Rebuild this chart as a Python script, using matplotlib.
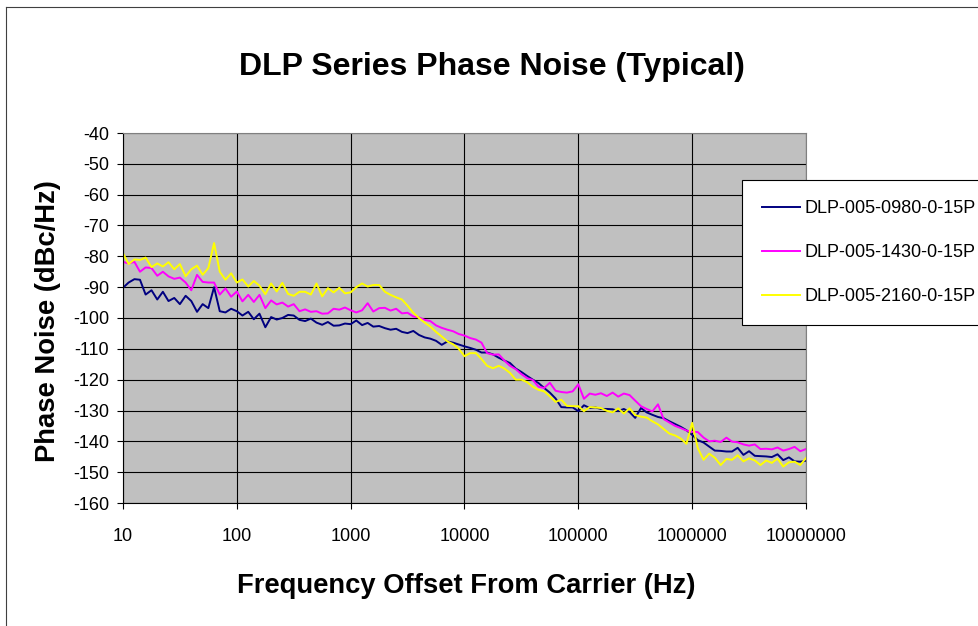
# DLP series phase noise chart (Excel style)
import matplotlib
matplotlib.use("Agg")
import matplotlib.pyplot as plt
from matplotlib.lines import Line2D

plt.rcParams['font.family'] = ['Liberation Sans', 'DejaVu Sans']
plt.rcParams['axes.unicode_minus'] = False

# offset frequencies (Hz), 20 points per decade
freq_hz = [
    10, 11.2, 12.6, 14.1, 15.8, 17.8, 20, 22.4, 25.1, 28.2,
    31.6, 35.5, 39.8, 44.7, 50.1, 56.2, 63.1, 70.8, 79.4, 89.1,
    100, 112, 126, 141, 158, 178, 200, 224, 251, 282,
    316, 355, 398, 447, 501, 562, 631, 708, 794, 891,
    1000, 1120, 1260, 1410, 1580, 1780, 2000, 2240, 2510, 2820,
    3160, 3550, 3980, 4470, 5010, 5620, 6310, 7080, 7940, 8910,
    1.0e4, 1.12e4, 1.26e4, 1.41e4, 1.58e4, 1.78e4, 2.0e4, 2.24e4, 2.51e4, 2.82e4,
    3.16e4, 3.55e4, 3.98e4, 4.47e4, 5.01e4, 5.62e4, 6.31e4, 7.08e4, 7.94e4, 8.91e4,
    1.0e5, 1.12e5, 1.26e5, 1.41e5, 1.58e5, 1.78e5, 2.0e5, 2.24e5, 2.51e5, 2.82e5,
    3.16e5, 3.55e5, 3.98e5, 4.47e5, 5.01e5, 5.62e5, 6.31e5, 7.08e5, 7.94e5, 8.91e5,
    1.0e6, 1.12e6, 1.26e6, 1.41e6, 1.58e6, 1.78e6, 2.0e6, 2.24e6, 2.51e6, 2.82e6,
    3.16e6, 3.55e6, 3.98e6, 4.47e6, 5.01e6, 5.62e6, 6.31e6, 7.08e6, 7.94e6, 8.91e6,
    1.0e7,
]

# phase noise (dBc/Hz)
dlp_0980 = [
    -90.2, -88.5, -87.4, -87.6, -92.4, -91.0, -94.0, -91.5, -94.5, -93.5,
    -95.5, -92.8, -94.5, -98.0, -95.5, -96.8, -90.0, -97.8, -98.2, -97.0,
    -97.8, -99.2, -98.0, -100.4, -98.6, -103.0, -99.7, -100.5, -100.0, -99.0,
    -99.2, -100.6, -101.0, -100.2, -101.5, -102.2, -101.3, -102.5, -102.4, -101.8,
    -102.0, -100.8, -102.3, -101.6, -102.8, -102.6, -103.3, -103.8, -103.5, -104.5,
    -104.9, -104.2, -105.5, -106.3, -106.7, -107.4, -108.7, -107.6, -108.0, -108.6,
    -109.2, -109.7, -110.3, -111.2, -111.2, -111.8, -112.9, -113.8, -114.6, -116.4,
    -117.5, -118.8, -120.0, -121.1, -122.7, -124.2, -126.1, -128.9, -129.0, -129.0,
    -130.2, -128.3, -129.2, -129.0, -129.5, -129.5, -129.6, -130.2, -129.5, -130.5,
    -132.4, -129.2, -130.6, -131.4, -132.1, -132.5, -133.5, -134.4, -135.3, -136.4,
    -137.9, -139.6, -140.4, -141.7, -143.0, -143.1, -143.3, -143.3, -142.1, -144.4,
    -143.2, -144.7, -144.8, -144.9, -145.1, -144.2, -146.1, -145.2, -146.5, -146.6,
    -146.3,
]

dlp_1430 = [
    -81.8, -82.3, -81.8, -85.0, -83.6, -83.8, -86.3, -85.0, -86.5, -87.3,
    -86.9, -88.5, -91.0, -86.0, -88.3, -88.5, -88.5, -92.4, -90.4, -93.1,
    -91.4, -94.6, -92.5, -94.8, -92.5, -96.8, -94.3, -95.6, -95.0, -96.3,
    -95.5, -97.8, -97.2, -98.0, -97.8, -98.6, -98.5, -97.0, -97.3, -96.6,
    -97.5, -98.2, -97.5, -95.2, -97.9, -96.8, -96.7, -97.6, -97.0, -98.5,
    -98.3, -99.5, -99.8, -100.6, -101.0, -102.4, -103.2, -103.8, -104.3, -105.2,
    -105.7, -106.5, -107.0, -108.0, -111.4, -111.9, -111.8, -113.8, -115.5, -116.6,
    -118.2, -119.5, -120.1, -122.3, -122.7, -121.0, -123.6, -124.0, -124.2, -123.8,
    -121.5, -126.2, -124.5, -124.9, -124.4, -125.3, -124.2, -125.5, -124.5, -125.0,
    -126.8, -128.6, -129.5, -130.3, -128.0, -132.8, -133.9, -135.0, -135.7, -136.5,
    -136.9, -137.0, -138.8, -140.0, -139.8, -140.2, -138.8, -140.1, -140.3, -141.0,
    -141.4, -141.0, -142.5, -142.4, -142.6, -142.0, -143.0, -142.5, -141.8, -143.2,
    -142.5,
]

dlp_2160 = [
    -79.0, -82.5, -81.0, -81.2, -80.4, -83.5, -82.3, -83.3, -81.9, -84.2,
    -82.5, -86.5, -84.2, -83.0, -86.0, -83.8, -75.7, -85.0, -87.6, -85.5,
    -88.5, -87.5, -89.8, -88.0, -89.5, -92.3, -88.8, -91.4, -88.6, -92.2,
    -92.8, -91.5, -91.5, -92.4, -88.8, -93.0, -90.3, -91.7, -90.2, -92.0,
    -91.7, -90.0, -88.8, -89.8, -89.3, -89.3, -91.5, -92.5, -93.3, -94.0,
    -96.0, -98.3, -100.0, -101.5, -102.8, -104.5, -106.0, -107.6, -108.5, -110.0,
    -112.4, -111.4, -111.4, -113.3, -115.5, -116.3, -115.5, -116.4, -117.8, -120.0,
    -120.0, -120.8, -122.3, -123.3, -123.8, -125.4, -127.2, -126.5, -128.5, -128.6,
    -128.6, -130.2, -128.9, -129.0, -129.2, -130.1, -130.6, -129.3, -131.0, -129.3,
    -131.5, -132.0, -132.3, -133.5, -134.5, -136.0, -137.5, -138.1, -139.1, -140.8,
    -134.0, -142.2, -146.0, -144.0, -145.3, -147.7, -145.7, -146.0, -144.5, -146.5,
    -145.5, -146.2, -147.7, -146.2, -147.0, -145.6, -148.2, -146.8, -146.6, -147.7,
    -145.4,
]

series_labels = ["DLP-005-0980-0-15P", "DLP-005-1430-0-15P", "DLP-005-2160-0-15P"]
series_colors = ["#000080", "#FF00FF", "#FFFF00"]

x_ticks = [10, 100, 1000, 10000, 100000, 1000000, 10000000]
x_tick_labels = ["10", "100", "1000", "10000", "100000", "1000000", "10000000"]
y_ticks = list(range(-160, -39, 10))

fig = plt.figure(figsize=(9.79, 6.26), dpi=100)
ax = fig.add_axes([123 / 979, 1 - 503 / 626, 683 / 979, 370 / 626])
ax.set_facecolor("#C0C0C0")

for vals, lab, col in zip([dlp_0980, dlp_1430, dlp_2160], series_labels, series_colors):
    ax.plot(freq_hz, vals, color=col, lw=1.4, label=lab)

ax.set_xscale("log")
ax.set_xlim(10, 1e7)
ax.set_ylim(-160, -40)
ax.set_xticks(x_ticks)
ax.set_xticklabels(x_tick_labels)
ax.minorticks_off()
ax.set_yticks(y_ticks)
ax.set_yticklabels([str(v) for v in y_ticks])
ax.grid(True, color="black", lw=0.8)
ax.set_axisbelow(True)

ax.tick_params(axis="both", direction="out", length=4, width=0.8, labelsize=13)
ax.tick_params(axis="x", pad=14)
ax.tick_params(axis="y", pad=6)

for side in ["top", "right"]:
    ax.spines[side].set_color("#808080")
for side in ["left", "bottom"]:
    ax.spines[side].set_color("black")

# title and axis labels
fig.text(492 / 979, 1 - 75 / 626, "DLP Series Phase Noise (Typical)",
         ha="center", va="baseline", fontsize=23, fontweight="bold")
fig.text(466 / 979, 1 - 593 / 626, "Frequency Offset From Carrier (Hz)",
         ha="center", va="baseline", fontsize=19.7, fontweight="bold")
fig.text(48 / 979, 1 - 321 / 626, "Phase Noise (dBc/Hz)", rotation=90,
         ha="center", va="center", fontsize=19.7, fontweight="bold")

leg = ax.legend(loc="upper left", bbox_to_anchor=(742 / 979, 1 - 180 / 626),
                bbox_transform=fig.transFigure, fontsize=13, frameon=True,
                fancybox=False, edgecolor="black", framealpha=1,
                handlelength=2.1, handletextpad=0.25, labelspacing=1.5,
                borderpad=1.1, borderaxespad=0)
leg.get_frame().set_linewidth(0.8)

# chart area border (top and left edges)
fig.add_artist(Line2D([6 / 979, 1], [1 - 7 / 626, 1 - 7 / 626],
                      transform=fig.transFigure, color="#404040", lw=0.8))
fig.add_artist(Line2D([6 / 979, 6 / 979], [0, 1 - 7 / 626],
                      transform=fig.transFigure, color="#404040", lw=0.8))

fig.savefig("out.png", dpi=100)
